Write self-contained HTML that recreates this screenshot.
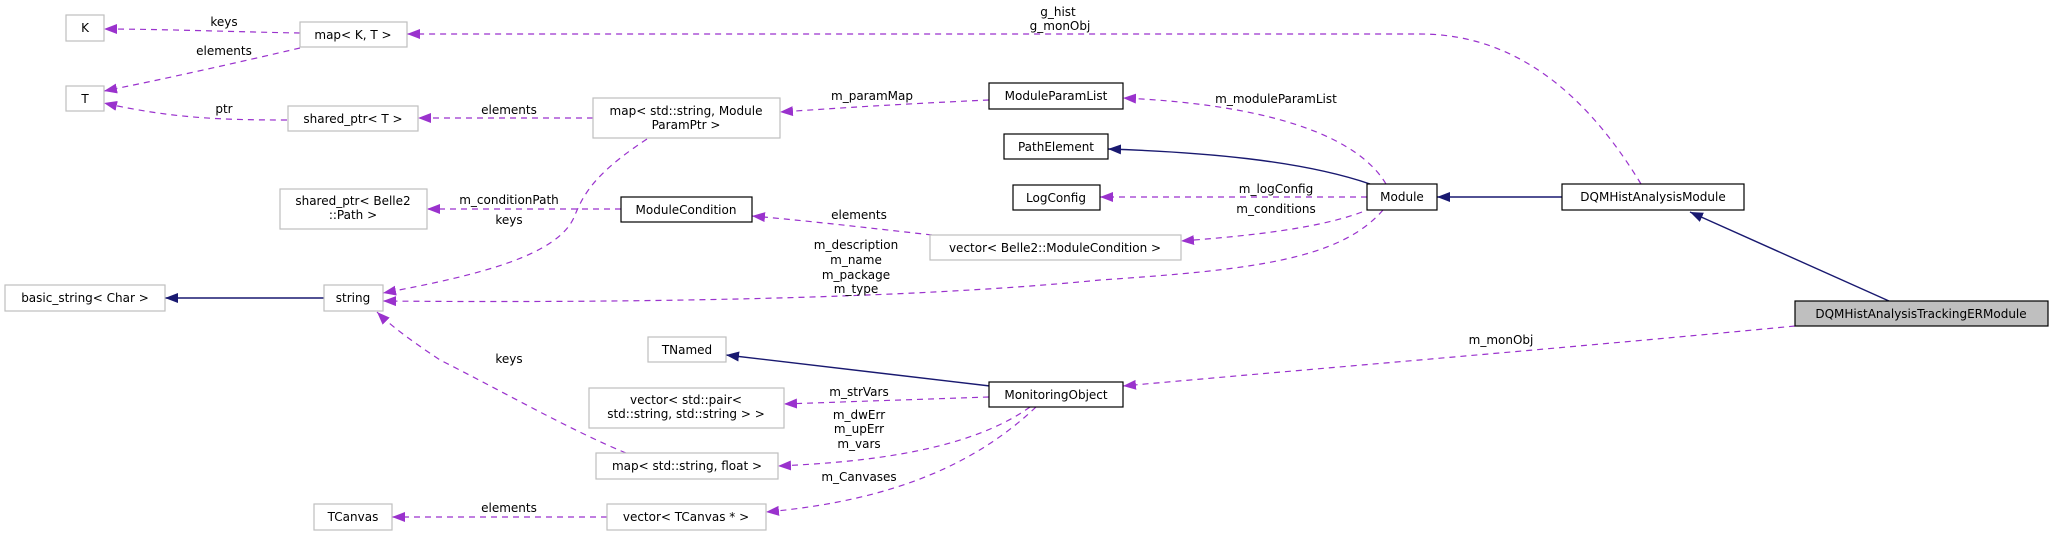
<!DOCTYPE html>
<html><head><meta charset="utf-8"><style>
html,body{margin:0;padding:0;background:#fff;}
svg{display:block;}
text{font-family:"DejaVu Sans","Liberation Sans",sans-serif;font-size:12px;fill:#000;}
</style></head><body>
<svg width="2053" height="536" viewBox="0 0 2053 536" xmlns="http://www.w3.org/2000/svg">
<defs>
<marker id="ap" markerUnits="userSpaceOnUse" markerWidth="14" markerHeight="12" refX="13" refY="5" orient="auto"><path d="M0,0 L13,5 L0,10 z" fill="#9a32cd"/></marker>
<marker id="an" markerUnits="userSpaceOnUse" markerWidth="14" markerHeight="12" refX="13" refY="5" orient="auto"><path d="M0,0 L13,5 L0,10 z" fill="#191970"/></marker>
</defs>
<g fill="none" stroke="#9a32cd" stroke-width="1.2" stroke-dasharray="6,5" marker-end="url(#ap)">
<path d="M300,33 C240,32 160,29 104,29"/>
<path d="M300,48 C240,62 160,80 104,91"/>
<path d="M287,120 C220,120 170,118 104,103"/>
<path d="M593,118 L418,118"/>
<path d="M989,100 C900,104 840,108 780,112"/>
<path d="M1386,184 C1360,140 1280,105 1123,98"/>
<path d="M1367,197 L1100,197"/>
<path d="M1362,212 C1320,228 1250,236 1181,241"/>
<path d="M932,235 C870,228 800,220 752,216"/>
<path d="M621,209 L427,209"/>
<path d="M647,139 C600,170 585,190 575,215 C560,255 480,275 383,293"/>
<path d="M1383,210 C1340,260 1250,270 1100,280 C900,300 600,303 383,301"/>
<path d="M626,453 C570,430 500,390 440,360 C410,340 390,325 377,312"/>
<path d="M989,397 C900,400 840,402 784,404"/>
<path d="M1030,407 C970,450 870,462 778,466"/>
<path d="M1036,407 C980,460 900,500 766,512"/>
<path d="M607,517 L392,517"/>
<path d="M1795,326 C1600,345 1300,370 1123,386"/>
<path d="M1641,184 C1590,100 1520,34 1420,34 L407,34"/>
</g>
<g fill="none" stroke="#191970" stroke-width="1.4" marker-end="url(#an)">
<path d="M1370,184 C1300,160 1200,152 1108,149"/>
<path d="M324,298 L165,298"/>
<path d="M990,386 L726,355"/>
<path d="M1562,197 L1437,197"/>
<path d="M1889,301 L1690,212"/>
</g>
<g fill="#fff" stroke="#bfbfbf" stroke-width="1.2">
<rect x="66" y="15" width="38" height="26"/>
<rect x="300" y="22" width="107" height="25"/>
<rect x="66" y="86" width="38" height="25"/>
<rect x="288" y="106" width="130" height="25"/>
<rect x="593" y="98" width="187" height="40"/>
<rect x="280" y="189" width="147" height="40"/>
<rect x="930" y="235" width="251" height="25"/>
<rect x="5" y="285" width="160" height="26"/>
<rect x="324" y="285" width="59" height="26"/>
<rect x="648" y="337" width="78" height="25"/>
<rect x="589" y="388" width="195" height="40"/>
<rect x="596" y="453" width="182" height="26"/>
<rect x="314" y="504" width="78" height="26"/>
<rect x="607" y="504" width="159" height="26"/>
</g>
<g fill="#fff" stroke="#000" stroke-width="1.2">
<rect x="989" y="83" width="134" height="26"/>
<rect x="1004" y="134" width="104" height="25"/>
<rect x="1013" y="185" width="87" height="25"/>
<rect x="621" y="197" width="131" height="25"/>
<rect x="1367" y="184" width="70" height="26"/>
<rect x="1562" y="184" width="182" height="26"/>
<rect x="989" y="382" width="134" height="25"/>
<rect x="1795" y="301" width="253" height="25" fill="#bfbfbf"/>
</g>
<g text-anchor="middle">
<text x="85" y="32">K</text>
<text x="353" y="39">map&lt; K, T &gt;</text>
<text x="85" y="103">T</text>
<text x="353" y="123">shared_ptr&lt; T &gt;</text>
<text x="686" y="115">map&lt; std::string, Module</text>
<text x="686" y="129">ParamPtr &gt;</text>
<text x="353" y="205">shared_ptr&lt; Belle2</text>
<text x="353" y="219">::Path &gt;</text>
<text x="1056" y="100">ModuleParamList</text>
<text x="1056" y="151">PathElement</text>
<text x="1056" y="202">LogConfig</text>
<text x="686" y="214">ModuleCondition</text>
<text x="1055" y="252">vector&lt; Belle2::ModuleCondition &gt;</text>
<text x="1402" y="201">Module</text>
<text x="1653" y="201">DQMHistAnalysisModule</text>
<text x="1921" y="318">DQMHistAnalysisTrackingERModule</text>
<text x="85" y="302">basic_string&lt; Char &gt;</text>
<text x="353" y="302">string</text>
<text x="687" y="354">TNamed</text>
<text x="686" y="404">vector&lt; std::pair&lt;</text>
<text x="686" y="418">std::string, std::string &gt; &gt;</text>
<text x="687" y="470">map&lt; std::string, float &gt;</text>
<text x="353" y="521">TCanvas</text>
<text x="686" y="521">vector&lt; TCanvas * &gt;</text>
<text x="1056" y="399">MonitoringObject</text>
<text x="224" y="26">keys</text>
<text x="224" y="55">elements</text>
<text x="224" y="113">ptr</text>
<text x="509" y="114">elements</text>
<text x="509" y="204">m_conditionPath</text>
<text x="509" y="224">keys</text>
<text x="1058" y="16">g_hist</text>
<text x="1060" y="30">g_monObj</text>
<text x="872" y="100">m_paramMap</text>
<text x="1276" y="103">m_moduleParamList</text>
<text x="1276" y="193">m_logConfig</text>
<text x="1276" y="213">m_conditions</text>
<text x="859" y="219">elements</text>
<text x="856" y="249">m_description</text>
<text x="856" y="264">m_name</text>
<text x="856" y="279">m_package</text>
<text x="856" y="293">m_type</text>
<text x="509" y="363">keys</text>
<text x="859" y="396">m_strVars</text>
<text x="859" y="419">m_dwErr</text>
<text x="859" y="433">m_upErr</text>
<text x="859" y="448">m_vars</text>
<text x="859" y="481">m_Canvases</text>
<text x="509" y="512">elements</text>
<text x="1501" y="344">m_monObj</text>
</g>
</svg>
</body></html>
